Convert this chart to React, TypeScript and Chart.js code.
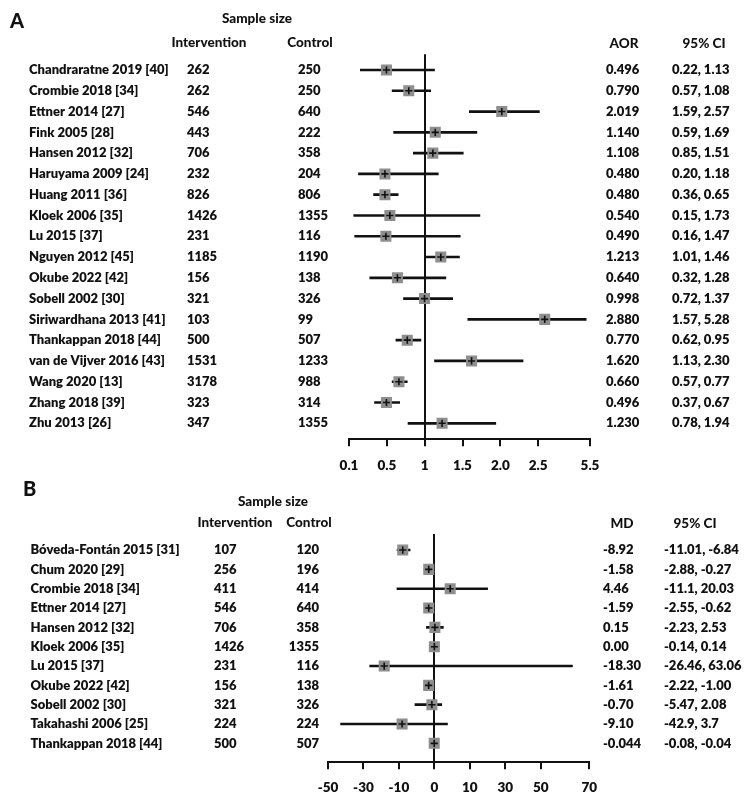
import React, { useEffect, useRef } from 'react';
import { Chart, registerables, LinearScale } from 'chart.js';

Chart.register(...registerables);

// ---------- Panel A: adjusted odds ratios ----------
const A_STUDIES = [
  'Chandraratne 2019 [40]', 'Crombie 2018 [34]', 'Ettner 2014 [27]', 'Fink 2005 [28]',
  'Hansen 2012 [32]', 'Haruyama 2009 [24]', 'Huang 2011 [36]', 'Kloek 2006 [35]',
  'Lu 2015 [37]', 'Nguyen 2012 [45]', 'Okube 2022 [42]', 'Sobell 2002 [30]',
  'Siriwardhana 2013 [41]', 'Thankappan 2018 [44]', 'van de Vijver 2016 [43]', 'Wang 2020 [13]',
  'Zhang 2018 [39]', 'Zhu 2013 [26]',
];
const A_INTERVENTION = [262, 262, 546, 443, 706, 232, 826, 1426, 231, 1185, 156, 321, 103, 500, 1531, 3178, 323, 347];
const A_CONTROL = [250, 250, 640, 222, 358, 204, 806, 1355, 116, 1190, 138, 326, 99, 507, 1233, 988, 314, 1355];
const A_AOR = ['0.496', '0.790', '2.019', '1.140', '1.108', '0.480', '0.480', '0.540', '0.490', '1.213', '0.640', '0.998', '2.880', '0.770', '1.620', '0.660', '0.496', '1.230'];
const A_CI = ['0.22, 1.13', '0.57, 1.08', '1.59, 2.57', '0.59, 1.69', '0.85, 1.51', '0.20, 1.18', '0.36, 0.65', '0.15, 1.73', '0.16, 1.47', '1.01, 1.46', '0.32, 1.28', '0.72, 1.37', '1.57, 5.28', '0.62, 0.95', '1.13, 2.30', '0.57, 0.77', '0.37, 0.67', '0.78, 1.94'];
const A_TICKS = [0.1, 0.5, 1, 1.5, 2.0, 2.5, 5.5];
const A_TICK_LABELS = ['0.1', '0.5', '1', '1.5', '2.0', '2.5', '5.5'];

// ---------- Panel B: mean differences ----------
const B_STUDIES = [
  'Bóveda-Fontán 2015 [31]', 'Chum 2020 [29]', 'Crombie 2018 [34]', 'Ettner 2014 [27]',
  'Hansen 2012 [32]', 'Kloek 2006 [35]', 'Lu 2015 [37]', 'Okube 2022 [42]',
  'Sobell 2002 [30]', 'Takahashi 2006 [25]', 'Thankappan 2018 [44]',
];
const B_INTERVENTION = [107, 256, 411, 546, 706, 1426, 231, 156, 321, 224, 500];
const B_CONTROL = [120, 196, 414, 640, 358, 1355, 116, 138, 326, 224, 507];
const B_MD = ['-8.92', '-1.58', '4.46', '-1.59', '0.15', '0.00', '-18.30', '-1.61', '-0.70', '-9.10', '-0.044'];
const B_CI = ['-11.01, -6.84', '-2.88, -0.27', '-11.1, 20.03', '-2.55, -0.62', '-2.23, 2.53', '-0.14, 0.14', '-26.46, 63.06', '-2.22, -1.00', '-5.47, 2.08', '-42.9, 3.7', '-0.08, -0.04'];
const B_TICKS = [-50, -30, -10, 0, 10, 30, 50, 70];
const B_TICK_LABELS = ['-50', '-30', '-10', '0', '10', '30', '50', '70'];

const INK = '#111111';
const MARKER_FILL = '#8e8e8e';
const FAMILY = 'Lato, "Open Sans", sans-serif';
const BODY_FONT = `800 13px ${FAMILY}`;
const HEAD_FONT = `900 13.5px ${FAMILY}`;
const LETTER_FONT = `900 20px ${FAMILY}`;

Chart.defaults.font.family = FAMILY;

// Linear axis made of segments: each gap between successive knots gets its own width.
class SegmentedScale extends LinearScale {
  static id = 'segmented';
  static defaults = {};

  knots(): number[] {
    return (this.options as any).knots;
  }
  spans(): number[] {
    return (this.options as any).spans;
  }
  determineDataLimits() {
    const k = this.knots();
    this.min = k[0];
    this.max = k[k.length - 1];
  }
  buildTicks() {
    this.start = this.min;
    this.end = this.max;
    return this.knots().map((value) => ({ value }));
  }
  toDecimal(value: number) {
    const k = this.knots();
    const s = this.spans();
    const total = s.reduce((a, b) => a + b, 0);
    let i = 0;
    while (i < k.length - 2 && value > k[i + 1]) i++;
    let acc = 0;
    for (let j = 0; j < i; j++) acc += s[j];
    const t = (value - k[i]) / (k[i + 1] - k[i]);
    return (acc + t * s[i]) / total;
  }
  getPixelForValue(value: number) {
    if (value === null || value === undefined || Number.isNaN(value)) return NaN;
    return this.getPixelForDecimal(this.toDecimal(value));
  }
  getValueForPixel(pixel: number) {
    const k = this.knots();
    const s = this.spans();
    const total = s.reduce((a, b) => a + b, 0);
    const pos = this.getDecimalForPixel(pixel) * total;
    let acc = 0;
    for (let i = 0; i < s.length; i++) {
      if (pos <= acc + s[i] || i === s.length - 1) {
        return k[i] + ((pos - acc) / s[i]) * (k[i + 1] - k[i]);
      }
      acc += s[i];
    }
    return k[k.length - 1];
  }
}
Chart.register(SegmentedScale);

const parsePair = (s: string) => s.split(',').map((t) => Number(t.trim()));

type TextItem = { text: string; x: number; y: number; font: string; align: CanvasTextAlign };

type PanelSpec = {
  height: number;
  studies: string[];
  intervention: number[];
  control: number[];
  estimates: string[];
  intervals: string[];
  ticks: number[];
  tickLabels: string[];
  spans: number[];
  reference: number;
  headers: TextItem[];
  cols: { name: number; int: number; intAlign: CanvasTextAlign; ctl: number; ctlAlign: CanvasTextAlign; est: number; ci: number };
  area: { top: number; left: number; right: number; bottom: number };
  rows: { min: number; max: number };
  tickPad: number;
};

function tablePlugin(spec: PanelSpec) {
  return {
    id: 'forestTable',
    afterDraw(chart: any) {
      const ctx: CanvasRenderingContext2D = chart.ctx;
      const y = chart.scales.y;
      ctx.save();
      ctx.fillStyle = INK;
      ctx.textBaseline = 'middle';
      const put = (t: TextItem) => {
        ctx.font = t.font;
        ctx.textAlign = t.align;
        ctx.fillText(t.text, t.x, t.y);
      };
      spec.headers.forEach(put);
      spec.studies.forEach((name, i) => {
        const py = y.getPixelForValue(i);
        put({ text: name, x: spec.cols.name, y: py, font: BODY_FONT, align: 'left' });
        put({ text: String(spec.intervention[i]), x: spec.cols.int, y: py, font: BODY_FONT, align: spec.cols.intAlign });
        put({ text: String(spec.control[i]), x: spec.cols.ctl, y: py, font: BODY_FONT, align: spec.cols.ctlAlign });
        put({ text: spec.estimates[i], x: spec.cols.est, y: py, font: BODY_FONT, align: 'left' });
        put({ text: spec.intervals[i], x: spec.cols.ci, y: py, font: BODY_FONT, align: 'left' });
      });
      ctx.restore();
    },
  };
}

function buildConfig(spec: PanelSpec): any {
  const points = spec.estimates.map((e, i) => ({ x: Number(e), y: i }));
  const bars = spec.intervals.map((c, i) => ({ y: i, x: parsePair(c) }));
  const axisHeight = spec.height - spec.area.bottom;
  return {
    type: 'scatter',
    data: {
      datasets: [
        {
          type: 'scatter',
          data: points,
          pointStyle: 'cross',
          pointRadius: 3.6,
          borderColor: INK,
          borderWidth: 1.6,
          order: 0,
        },
        {
          type: 'scatter',
          data: points,
          pointStyle: 'rect',
          pointRadius: 7.8,
          backgroundColor: MARKER_FILL,
          borderWidth: 0,
          order: 1,
        },
        {
          type: 'bar',
          indexAxis: 'y',
          data: bars,
          backgroundColor: INK,
          borderWidth: 0,
          barThickness: 2,
          grouped: false,
          order: 2,
        },
      ],
    },
    options: {
      responsive: false,
      animation: false,
      events: [],
      layout: {
        padding: { top: spec.area.top, left: spec.area.left, right: 750 - spec.area.right, bottom: 0 },
      },
      plugins: { legend: { display: false }, tooltip: { enabled: false } },
      scales: {
        x: {
          type: 'segmented',
          position: 'bottom',
          knots: spec.ticks,
          spans: spec.spans,
          offset: false,
          afterFit: (scale: any) => {
            scale.height = axisHeight;
          },
          border: { display: true, color: INK, width: 2 },
          grid: {
            offset: false,
            drawTicks: true,
            tickLength: 7,
            lineWidth: 2,
            tickWidth: 2,
            tickColor: INK,
            color: (c: any) => (c.tick && c.tick.value === spec.reference ? INK : 'rgba(0,0,0,0)'),
          },
          ticks: {
            autoSkip: false,
            maxRotation: 0,
            minRotation: 0,
            padding: spec.tickPad,
            color: INK,
            font: { family: FAMILY, size: 13.5, weight: '800' },
            callback: (_v: any, i: number) => spec.tickLabels[i],
          },
        },
        y: {
          type: 'linear',
          display: false,
          reverse: true,
          offset: false,
          grid: { offset: false },
          min: spec.rows.min,
          max: spec.rows.max,
        },
      },
    },
    plugins: [tablePlugin(spec)],
  };
}

const PANEL_A: PanelSpec = {
  height: 480,
  studies: A_STUDIES,
  intervention: A_INTERVENTION,
  control: A_CONTROL,
  estimates: A_AOR,
  intervals: A_CI,
  ticks: A_TICKS,
  tickLabels: A_TICK_LABELS,
  spans: [1, 1, 1, 1, 1, 1.37],
  reference: 1,
  headers: [
    { text: 'A', x: 10, y: 22, font: LETTER_FONT, align: 'left' },
    { text: 'Sample size', x: 257, y: 19, font: HEAD_FONT, align: 'center' },
    { text: 'Intervention', x: 209, y: 43, font: HEAD_FONT, align: 'center' },
    { text: 'Control', x: 310, y: 43, font: HEAD_FONT, align: 'center' },
    { text: 'AOR', x: 624, y: 43.5, font: HEAD_FONT, align: 'center' },
    { text: '95% CI', x: 704, y: 43.5, font: HEAD_FONT, align: 'center' },
  ],
  cols: { name: 29, int: 187, intAlign: 'left', ctl: 298, ctlAlign: 'left', est: 606, ci: 672 },
  area: { top: 54.3, left: 349, right: 590, bottom: 439.3 },
  rows: { min: -0.755, max: 17.77 },
  tickPad: 11.5,
};

const PANEL_B: PanelSpec = {
  height: 327,
  studies: B_STUDIES,
  intervention: B_INTERVENTION,
  control: B_CONTROL,
  estimates: B_MD,
  intervals: B_CI,
  ticks: B_TICKS,
  tickLabels: B_TICK_LABELS,
  spans: [1, 1, 1, 1, 1, 1, 1.37],
  reference: 0,
  headers: [
    { text: 'B', x: 23, y: 10, font: LETTER_FONT, align: 'left' },
    { text: 'Sample size', x: 273, y: 21.7, font: HEAD_FONT, align: 'center' },
    { text: 'Intervention', x: 235, y: 43, font: HEAD_FONT, align: 'center' },
    { text: 'Control', x: 309, y: 43, font: HEAD_FONT, align: 'center' },
    { text: 'MD', x: 622, y: 44, font: HEAD_FONT, align: 'center' },
    { text: '95% CI', x: 695, y: 44, font: HEAD_FONT, align: 'center' },
  ],
  cols: { name: 30.5, int: 214, intAlign: 'left', ctl: 319, ctlAlign: 'right', est: 603, ci: 664 },
  area: { top: 54, left: 328, right: 589.3, bottom: 282.3 },
  rows: { min: -0.83, max: 10.98 },
  tickPad: 10.6,
};

function ForestPanel({ spec }: { spec: PanelSpec }) {
  const ref = useRef<HTMLCanvasElement>(null);
  useEffect(() => {
    if (!ref.current) return;
    const chart = new Chart(ref.current, buildConfig(spec));
    return () => chart.destroy();
  }, [spec]);
  return (
    <canvas
      ref={ref}
      width={750}
      height={spec.height}
      style={{ display: 'block', width: 750, height: spec.height }}
    />
  );
}

export default function App() {
  return (
    <div style={{ position: 'absolute', left: 0, top: 0, width: 750, height: 807, background: '#fff' }}>
      <ForestPanel spec={PANEL_A} />
      <ForestPanel spec={PANEL_B} />
    </div>
  );
}
